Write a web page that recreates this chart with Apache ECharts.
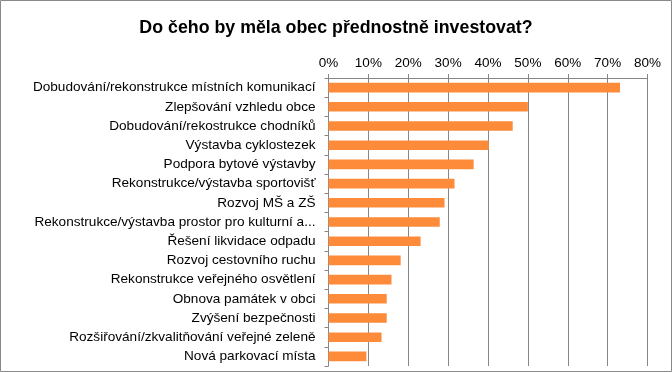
<!DOCTYPE html>
<html><head><meta charset="utf-8">
<script src="https://cdn.jsdelivr.net/npm/echarts@6/dist/echarts.min.js"></script>
<style>html,body{margin:0;padding:0;background:#fff}#c{width:672px;height:372px}</style>
</head><body><div id="c"></div>
<script>
const titleText = "Do čeho by měla obec přednostně investovat?";
const categories = [
  "Dobudování/rekonstrukce místních komunikací",
  "Zlepšování vzhledu obce",
  "Dobudování/rekostrukce chodníků",
  "Výstavba cyklostezek",
  "Podpora bytové výstavby",
  "Rekonstrukce/výstavba sportovišť",
  "Rozvoj MŠ a ZŠ",
  "Rekonstrukce/výstavba prostor pro kulturní a...",
  "Řešení likvidace odpadu",
  "Rozvoj cestovního ruchu",
  "Rekonstrukce veřejného osvětlení",
  "Obnova památek v obci",
  "Zvýšení bezpečnosti",
  "Rozšiřování/zkvalitňování veřejné zeleně",
  "Nová parkovací místa"
];
const values = [73.1, 50.0, 46.2, 40.2, 36.4, 31.6, 29.1, 27.9, 23.1, 18.1, 15.8, 14.6, 14.6, 13.3, 9.5];
const axisMin = 0, axisMax = 80, axisStep = 10;

const chart = echarts.init(document.getElementById('c'), null, {renderer:'canvas'});
chart.setOption({
  animation:false,
  title:{text:titleText,left:'center',top:14,textStyle:{fontFamily:'Liberation Sans',fontWeight:'bold',fontSize:17.8,color:'#000'}},
  graphic:[{type:'rect',shape:{x:0.5,y:0.5,width:671,height:371},style:{fill:'none',stroke:'#898989',lineWidth:1},silent:true}],
  grid:{left:328.5,right:24.5,top:78,bottom:6,containLabel:false},
  xAxis:{type:'value',position:'top',min:axisMin,max:axisMax,interval:axisStep,
    axisLine:{show:true,lineStyle:{color:'#868686'}},
    axisTick:{show:true,length:4,lineStyle:{color:'#868686'}},
    splitLine:{show:true,lineStyle:{color:'#868686'}},
    axisLabel:{formatter:'{value}%',fontFamily:'Liberation Sans',fontSize:13.5,color:'#000',margin:8}},
  yAxis:{type:'category',inverse:true,data:categories,
    axisLine:{show:true,lineStyle:{color:'#868686'}},
    axisTick:{show:true,length:4,lineStyle:{color:'#868686'}},
    axisLabel:{fontFamily:'Liberation Sans',fontSize:13.6,color:'#000',margin:13}},
  series:[{type:'bar',data:values,barCategoryGap:'50%',itemStyle:{color:'#FD8B3A'}}]
});
</script></body></html>
